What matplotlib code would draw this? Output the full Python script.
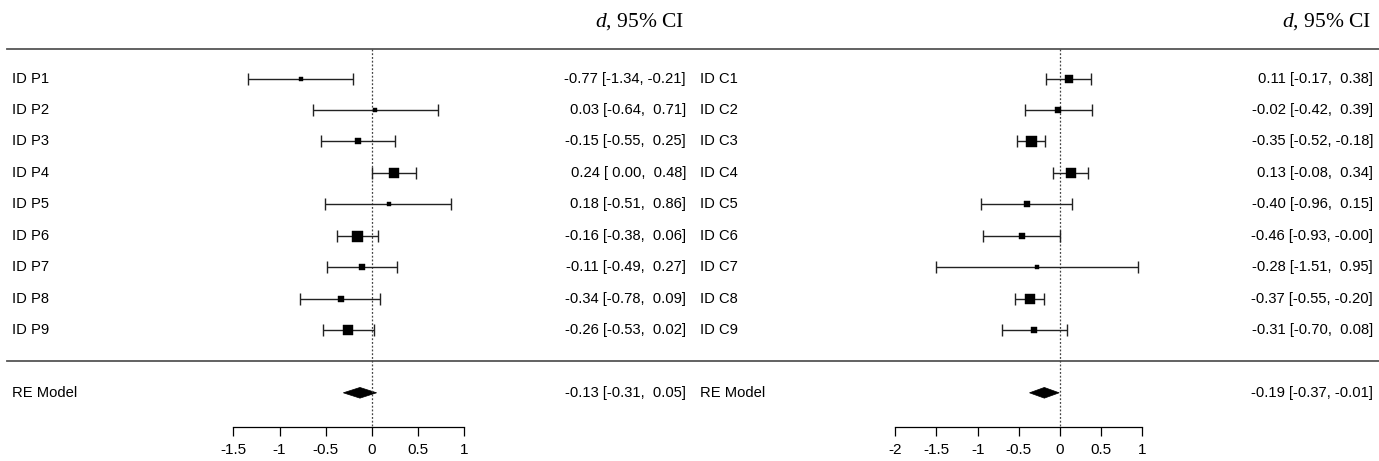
"""
Two forest plots side by side: standardized effects (d) per ID with
95% confidence intervals and the random-effects pooled estimate.
Saves out.png.
"""

import matplotlib
matplotlib.use("Agg")
import matplotlib.pyplot as plt
from matplotlib.patches import Polygon

# ---------------------------------------------------------------------------
# Data
# ---------------------------------------------------------------------------

p_labels = ["ID P1", "ID P2", "ID P3", "ID P4", "ID P5", "ID P6", "ID P7", "ID P8", "ID P9"]
p_est    = [-0.77, 0.03, -0.15, 0.24, 0.18, -0.16, -0.11, -0.34, -0.26]
p_lo     = [-1.34, -0.64, -0.55, 0.00, -0.51, -0.38, -0.49, -0.78, -0.53]
p_hi     = [-0.21, 0.71, 0.25, 0.48, 0.86, 0.06, 0.27, 0.09, 0.02]
p_weight = [6.2, 4.6, 10.3, 18.2, 4.5, 19.7, 11.1, 9.2, 16.1]
p_re     = (-0.13, -0.31, 0.05)
p_ticks  = [-1.5, -1, -0.5, 0, 0.5, 1]

c_labels = ["ID C1", "ID C2", "ID C3", "ID C4", "ID C5", "ID C6", "ID C7", "ID C8", "ID C9"]
c_est    = [0.11, -0.02, -0.35, 0.13, -0.40, -0.46, -0.28, -0.37, -0.31]
c_lo     = [-0.17, -0.42, -0.52, -0.08, -0.96, -0.93, -1.51, -0.55, -0.70]
c_hi     = [0.38, 0.39, -0.18, 0.34, 0.15, -0.00, 0.95, -0.20, 0.08]
c_weight = [13.5, 8.5, 19.4, 16.9, 5.3, 7.0, 1.3, 19.1, 9.0]
c_re     = (-0.19, -0.37, -0.01)
c_ticks  = [-2, -1.5, -1, -0.5, 0, 0.5, 1]

# ---------------------------------------------------------------------------
# Style
# ---------------------------------------------------------------------------

plt.rcParams["font.family"] = ["Liberation Sans", "DejaVu Sans"]
plt.rcParams["mathtext.fontset"] = "custom"
plt.rcParams["mathtext.it"] = "Liberation Serif:italic"
plt.rcParams["mathtext.rm"] = "Liberation Serif"

FS      = 10.6
LINE_C  = "#555555"
CI_C    = "#222222"
W, H    = 1379, 461
DPI     = 100


def fmt(v):
    return f"{v:5.2f}"


def forest(ax, labels, est, lo, hi, weight, re, ticks, xlim, lab_x, ann_x, line_x0):
    k = len(labels)
    rows = list(range(k, 0, -1))

    ax.set_xlim(*xlim)
    ax.set_ylim(-3.17, 11.5)

    # header rule, separator and reference line
    ax.axhline(k + 0.95, xmin=line_x0, xmax=1, color=LINE_C, lw=1.3)
    ax.axhline(0, xmin=line_x0, xmax=1, color=LINE_C, lw=1.3)
    ax.plot([0, 0], [k + 0.95, -2.08], color="#444444", lw=0.9, ls=(0, (1.5, 1.5)))

    # confidence intervals
    xerr = [[e - l for e, l in zip(est, lo)], [h - e for e, h in zip(est, hi)]]
    ax.errorbar(est, rows, xerr=xerr, fmt="none", ecolor=CI_C, elinewidth=1.0,
                capsize=4.0, capthick=1.0)

    # squares scaled by weight
    wmin, wmax = min(weight), max(weight)
    for e, r, w in zip(est, rows, weight):
        ms = (3.5 + 7.5 * (w - wmin) / (wmax - wmin)) * 0.72
        ax.plot(e, r, marker="s", ms=ms, color="black", mec="black", mew=0.3, ls="none")

    # pooled estimate
    m, l, h = re
    ax.add_patch(Polygon([(l, -1), (m, -0.83), (h, -1), (m, -1.17)],
                         closed=True, fc="black", ec="black", lw=0.5))

    tr = ax.get_yaxis_transform()
    for lab, r, e, l_, h_ in zip(labels, rows, est, lo, hi):
        ax.text(lab_x, r, lab, transform=tr, ha="left", va="center", fontsize=FS)
        ax.text(ann_x, r, f"{fmt(e).strip()} [{fmt(l_)}, {fmt(h_)}]", transform=tr,
                ha="right", va="center", fontsize=FS)
    ax.text(lab_x, -1, "RE Model", transform=tr, ha="left", va="center", fontsize=FS)
    ax.text(ann_x, -1, f"{fmt(m).strip()} [{fmt(l)}, {fmt(h)}]", transform=tr,
            ha="right", va="center", fontsize=FS)
    ax.text(ann_x - 0.003, 10.8, r"$d$, 95% CI", transform=tr, ha="right",
            va="center", fontsize=15.5, family="Liberation Serif")

    # x axis
    for s in ("top", "right", "left"):
        ax.spines[s].set_visible(False)
    ax.spines["bottom"].set_position(("data", -2.08))
    ax.spines["bottom"].set_bounds(ticks[0], ticks[-1])
    ax.spines["bottom"].set_linewidth(0.9)
    ax.set_xticks(ticks)
    ax.set_xticklabels([f"{t:g}" for t in ticks])
    ax.tick_params(axis="x", direction="out", length=6.5, width=0.9, pad=5, labelsize=FS + 0.4)
    ax.set_yticks([])


fig = plt.figure(figsize=(W / DPI, H / DPI), dpi=DPI)

ax_l = fig.add_axes([0, 0, 690 / W, 1])
ax_r = fig.add_axes([690 / W, 0, 689 / W, 1])
for a in (ax_l, ax_r):
    a.patch.set_alpha(0)

forest(ax_l, p_labels, p_est, p_lo, p_hi, p_weight, p_re, p_ticks,
       xlim=(-4.026, 3.442), lab_x=12 / 690, ann_x=686 / 690, line_x0=7 / 690)
forest(ax_r, c_labels, c_est, c_lo, c_hi, c_weight, c_re, c_ticks,
       xlim=(-4.494, 3.875), lab_x=10 / 689, ann_x=683 / 689, line_x0=0)

fig.savefig("out.png", dpi=DPI, facecolor="white")
